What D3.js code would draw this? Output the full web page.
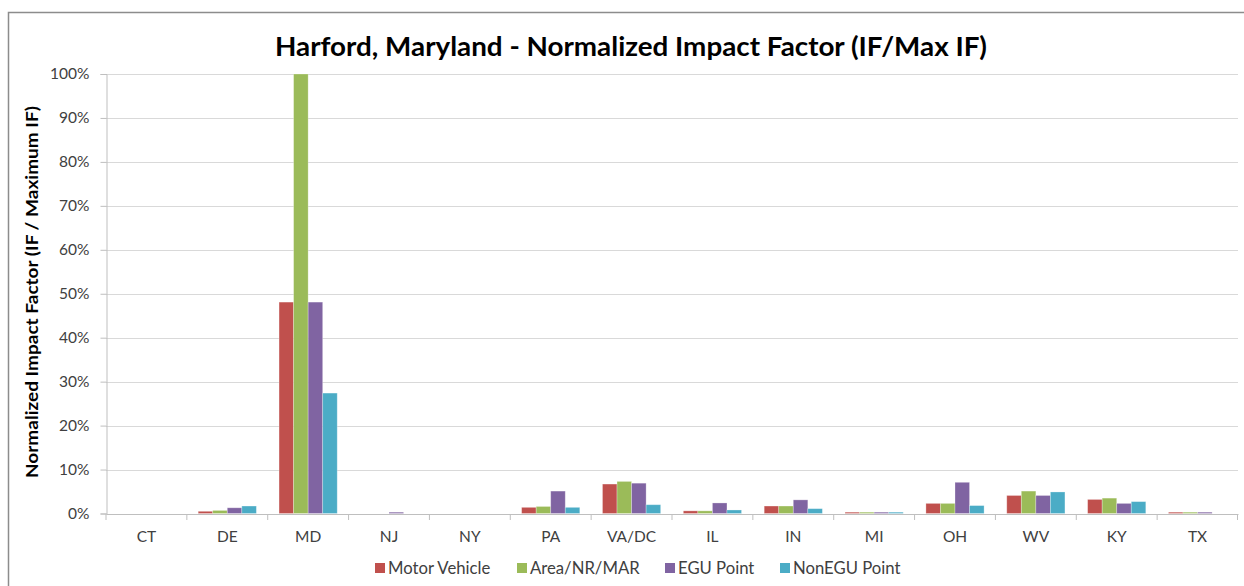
<!DOCTYPE html>
<html>
<head>
<meta charset="utf-8">
<script src="https://cdn.jsdelivr.net/npm/d3@7"></script>
<style>
  body { margin: 0; background: #fff; }
  text { font-family: Lato, "Open Sans", sans-serif; }
</style>
</head>
<body>
<script>
var width = 1244;
var height = 586;

// Data (fraction of max IF)
var states = ["CT", "DE", "MD", "NJ", "NY", "PA", "VA/DC", "IL", "IN", "MI", "OH", "WV", "KY", "TX"];
var seriesNames = ["Motor Vehicle", "Area/NR/MAR", "EGU Point", "NonEGU Point"];
var seriesColors = ["#c0504d", "#9bbb59", "#8064a2", "#4bacc6"];
var motorVehicle = [0, 0.005, 0.481, 0, 0, 0.014, 0.067, 0.006, 0.017, 0.003, 0.023, 0.041, 0.032, 0.003];
var areaNrMar   = [0, 0.007, 1.000, 0, 0, 0.016, 0.073, 0.006, 0.017, 0.003, 0.023, 0.051, 0.035, 0.003];
var egiPoint    = [0, 0.013, 0.481, 0.003, 0, 0.051, 0.069, 0.024, 0.031, 0.003, 0.071, 0.041, 0.023, 0.003];
var nonEguPoint = [0, 0.017, 0.274, 0, 0, 0.014, 0.020, 0.008, 0.011, 0.003, 0.018, 0.049, 0.027, 0];
var yTicks = [0, 0.1, 0.2, 0.3, 0.4, 0.5, 0.6, 0.7, 0.8, 0.9, 1.0];

var series = [motorVehicle, areaNrMar, egiPoint, nonEguPoint];

var plot = {left: 106, right: 1238, top: 74, bottom: 513.5};

var svg = d3.select("body")
            .append("svg")
            .attr("width", width)
            .attr("height", height);

// Chart frame (cut off on the right and bottom)
svg.append("path")
   .attr("d", "M8.5," + (height + 2) + "V12.5H" + (width + 2))
   .attr("fill", "none")
   .attr("stroke", "#8c8c8c")
   .attr("stroke-width", 1.5);

var x = d3.scaleBand()
          .domain(states)
          .range([plot.left, plot.right])
          .paddingInner(0)
          .paddingOuter(0);

var xInner = d3.scaleBand()
               .domain(d3.range(series.length))
               .range([0, x.bandwidth()])
               .paddingOuter(0.78)
               .paddingInner(0);

var y = d3.scaleLinear()
          .domain([0, 1])
          .range([plot.bottom, plot.top]);

// Gridlines
svg.append("g")
   .selectAll("line")
   .data(yTicks.slice(1))
   .enter()
   .append("line")
   .attr("x1", plot.left)
   .attr("x2", plot.right)
   .attr("y1", d => Math.round(y(d)) + 0.5)
   .attr("y2", d => Math.round(y(d)) + 0.5)
   .attr("stroke", "#d9d9d9")
   .attr("stroke-width", 1.2);

// Bars
var groups = svg.append("g")
                .selectAll("g")
                .data(states)
                .enter()
                .append("g")
                .attr("transform", d => "translate(" + x(d) + ",0)");

groups.selectAll("rect")
      .data((d, i) => series.map((s, k) => ({k: k, v: s[i]})))
      .enter()
      .filter(d => d.v > 0)
      .append("rect")
      .attr("x", d => xInner(d.k))
      .attr("y", d => y(d.v))
      .attr("width", xInner.bandwidth())
      .attr("height", d => y(0) - y(d.v))
      .attr("fill", d => seriesColors[d.k])
      .attr("stroke", "#ffffff")
      .attr("stroke-opacity", 0.35)
      .attr("stroke-width", 0.8);

// Y axis
var yAxis = d3.axisLeft(y)
              .tickValues(yTicks)
              .tickFormat(d3.format(".0%"))
              .tickSize(6)
              .tickPadding(11);

var gy = svg.append("g")
            .attr("transform", "translate(" + (plot.left + 0.5) + ",0)")
            .call(yAxis);

// X axis
var xAxis = d3.axisBottom(x)
              .tickSize(0)
              .tickPadding(17);

var gx = svg.append("g")
            .attr("transform", "translate(0," + (plot.bottom + 0.5) + ")")
            .call(xAxis);

gx.selectAll(".tick")
  .append("line")
  .attr("x1", -x.bandwidth() / 2)
  .attr("x2", -x.bandwidth() / 2)
  .attr("y2", 6)
  .attr("stroke", "#bfbfbf");

gx.append("line")
  .attr("x1", plot.right - 0.5)
  .attr("x2", plot.right - 0.5)
  .attr("y2", 6)
  .attr("stroke", "#bfbfbf");

[gx, gy].forEach(g => {
  g.select(".domain").attr("stroke", "#bfbfbf");
  g.selectAll(".tick line").attr("stroke", "#bfbfbf");
  g.selectAll(".tick text")
   .attr("fill", "#404040")
   .attr("font-size", 15.5)
   .attr("font-family", "Lato, sans-serif");
});

// Title
svg.append("text")
   .attr("x", 631)
   .attr("y", 56)
   .attr("text-anchor", "middle")
   .attr("font-size", 27)
   .attr("font-weight", "bold")
   .attr("fill", "#000")
   .attr("textLength", 712)
   .attr("lengthAdjust", "spacingAndGlyphs")
   .text("Harford, Maryland - Normalized Impact Factor (IF/Max IF)");

// Y axis title
svg.append("text")
   .attr("transform", "translate(38,292)rotate(-90)")
   .attr("text-anchor", "middle")
   .attr("font-size", 17)
   .attr("font-weight", "bold")
   .attr("fill", "#000")
   .attr("textLength", 372)
   .attr("lengthAdjust", "spacingAndGlyphs")
   .text("Normalized Impact Factor (IF / Maximum IF)");

// Legend
var legendX = [375, 517, 665, 780];
var legend = svg.append("g")
                .selectAll("g")
                .data(seriesNames)
                .enter()
                .append("g")
                .attr("transform", (d, i) => "translate(" + legendX[i] + ",563)");

legend.append("rect")
      .attr("width", 10)
      .attr("height", 10)
      .attr("fill", (d, i) => seriesColors[i]);

legend.append("text")
      .attr("x", 13)
      .attr("y", 11)
      .attr("font-size", 16.7)
      .attr("fill", "#404040")
      .text(d => d);
</script>
</body>
</html>
